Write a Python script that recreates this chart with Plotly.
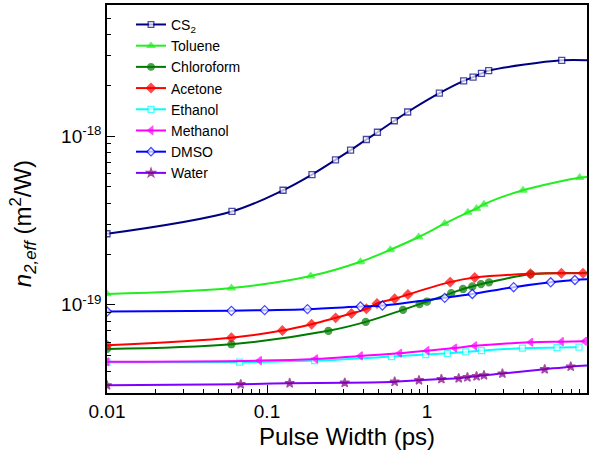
import plotly.graph_objects as go

# ---- data ----
cs2_x = [0.01, 0.0604, 0.126, 0.191, 0.268, 0.333, 0.418, 0.49, 0.625, 0.757, 1.195, 1.695, 1.94, 2.19, 2.43, 6.95, 10]
cs2_y = [2.64e-19, 3.58e-19, 4.78e-19, 5.92e-19, 7.24e-19, 8.26e-19, 9.56e-19, 1.056e-18, 1.235e-18, 1.392e-18,
         1.80e-18, 2.13e-18, 2.24e-18, 2.36e-18, 2.45e-18, 2.82e-18, 2.82e-18]

tol_x = [0.01, 0.0599, 0.1875, 0.384, 0.590, 0.887, 1.29, 1.80, 2.04, 2.27, 3.98, 9.0, 10]
tol_y = [1.16e-19, 1.257e-19, 1.481e-19, 1.801e-19, 2.122e-19, 2.525e-19, 3.03e-19, 3.535e-19, 3.72e-19,
         3.945e-19, 4.78e-19, 5.68e-19, 5.72e-19]

chl_x = [0.01, 0.0599, 0.242, 0.414, 0.708, 0.899, 1.0, 1.417, 1.679, 1.92, 2.175, 2.44, 4.45, 10]
chl_y = [5.48e-20, 5.84e-20, 7.01e-20, 7.92e-20, 9.34e-20, 1.01e-19, 1.046e-19, 1.173e-19, 1.242e-19,
         1.285e-19, 1.327e-19, 1.36e-19, 1.518e-19, 1.543e-19]

ace_x = [0.01, 0.0599, 0.1247, 0.190, 0.2685, 0.337, 0.418, 0.487, 0.628, 0.760, 1.396, 1.987, 4.43, 6.92, 9.44]
ace_y = [5.76e-20, 6.39e-20, 7.04e-20, 7.68e-20, 8.37e-20, 8.88e-20, 9.47e-20, 1.018e-19, 1.086e-19,
         1.151e-19, 1.364e-19, 1.451e-19, 1.528e-19, 1.539e-19, 1.539e-19]

eth_x = [0.01, 0.0675, 0.1986, 0.599, 0.982, 1.341, 1.746, 2.188, 3.95, 6.49, 8.91]
eth_y = [4.57e-20, 4.57e-20, 4.67e-20, 4.93e-20, 5.07e-20, 5.16e-20, 5.26e-20, 5.35e-20, 5.53e-20,
         5.58e-20, 5.61e-20]

met_x = [0.01, 0.0899, 0.2014, 0.384, 0.675, 1.0, 1.49, 1.987, 4.45, 6.92, 9.67]
met_y = [4.60e-20, 4.67e-20, 4.78e-20, 4.98e-20, 5.16e-20, 5.35e-20, 5.55e-20, 5.71e-20, 6.00e-20,
         6.05e-20, 6.08e-20]

dms_x = [0.01, 0.0599, 0.0967, 0.179, 0.384, 0.526, 1.29, 1.92, 3.48, 5.93, 8.40, 10]
dms_y = [9.12e-20, 9.21e-20, 9.30e-20, 9.43e-20, 9.77e-20, 9.90e-20, 1.10e-19, 1.159e-19, 1.273e-19,
         1.36e-19, 1.404e-19, 1.418e-19]

wat_x = [0.01, 0.0685, 0.1386, 0.306, 0.628, 0.891, 1.23, 1.578, 1.789, 2.04, 2.27, 2.96, 5.44, 7.91, 10]
wat_y = [3.33e-20, 3.38e-20, 3.43e-20, 3.45e-20, 3.50e-20, 3.57e-20, 3.63e-20, 3.67e-20, 3.72e-20,
         3.77e-20, 3.82e-20, 3.91e-20, 4.15e-20, 4.30e-20, 4.36e-20]

names = ["CS<sub>2</sub>", "Toluene", "Chloroform", "Acetone", "Ethanol", "Methanol", "DMSO", "Water"]
xs = [cs2_x, tol_x, chl_x, ace_x, eth_x, met_x, dms_x, wat_x]
ys = [cs2_y, tol_y, chl_y, ace_y, eth_y, met_y, dms_y, wat_y]

x_title = "Pulse Width (ps)"
y_title = "<i>n</i><sub><i>2,eff</i></sub> (m<sup>2</sup>/W)"

# ---- styles ----
line_colors = ["#000080", "#22EE22", "#007A00", "#FF0000", "#00FFFF", "#FF00FF", "#0000FF", "#8000FF"]
mk_symbols = ["square", "triangle-up", "circle", "diamond", "square", "triangle-left", "diamond", "star"]
mk_fill = ["white", "#22EE22", "#007A00", "#FF0000", "white", "#FF00FF", "white", "#800080"]
mk_line = ["#000080", "#22EE22", "#007A00", "#FF0000", "#00FFFF", "#FF00FF", "#0000FF", "#800080"]
mk_size = [6, 7, 7, 7, 6, 7, 7, 7]

FONT = "Liberation Sans, Arial, sans-serif"

fig = go.Figure()
for i in range(len(names)):
    sizes = [mk_size[i] if x < 10 else 0 for x in xs[i]]
    fig.add_trace(go.Scatter(
        x=xs[i], y=ys[i], name=names[i], mode="lines+markers",
        line=dict(color=line_colors[i], width=2, shape="spline", smoothing=1.0),
        marker=dict(symbol=mk_symbols[i], size=sizes, color=mk_fill[i],
                    line=dict(color=mk_line[i], width=1.3)),
    ))

def minor_vals(lo, hi):
    v = []
    for e in range(lo, hi):
        for m in range(2, 10):
            v.append(m * 10.0 ** e)
    return v

fig.update_layout(
    width=597, height=454,
    margin=dict(l=107, r=10, t=5, b=61, autoexpand=False),
    paper_bgcolor="white", plot_bgcolor="white",
    font=dict(family=FONT, color="black", size=19),
    showlegend=True,
    legend=dict(x=0.05, y=0.99, xanchor="left", yanchor="top",
                bgcolor="rgba(0,0,0,0)", borderwidth=0,
                font=dict(family=FONT, size=14, color="black"),
                tracegroupgap=0, itemwidth=30),
    annotations=[dict(text=y_title, xref="paper", yref="paper", x=-0.175, y=0.435,
                      xanchor="center", yanchor="middle", textangle=-90, showarrow=False,
                      font=dict(family=FONT, size=24, color="black"))],
)

fig.update_xaxes(
    type="log", range=[-2, 1], automargin=False,
    showline=True, linecolor="black", linewidth=1.5, mirror=True,
    showgrid=False, zeroline=False,
    ticks="inside", ticklen=8, tickwidth=1.2, tickcolor="black",
    tickvals=[0.01, 0.1, 1, 10], ticktext=["0.01", "0.1", "1", "10"],
    tickfont=dict(family=FONT, size=19),
    minor=dict(ticks="inside", ticklen=4, tickwidth=1, tickcolor="black",
               tickvals=minor_vals(-2, 1), showgrid=False),
    title=dict(text=x_title, font=dict(family=FONT, size=24), standoff=8),
)

fig.update_yaxes(
    type="log", range=[-19.5229, -17.2218], automargin=False,
    showline=True, linecolor="black", linewidth=1.5, mirror=True,
    showgrid=False, zeroline=False,
    ticks="inside", ticklen=8, tickwidth=1.2, tickcolor="black",
    tickvals=[1e-19, 1e-18], ticktext=["10<sup>-19</sup>", "10<sup>-18</sup>"],
    tickfont=dict(family=FONT, size=19),
    minor=dict(ticks="inside", ticklen=4, tickwidth=1, tickcolor="black",
               tickvals=minor_vals(-20, -17), showgrid=False),
)

fig.write_html("out.html", config={"displayModeBar": False},
               post_script="document.body.style.margin='0px';")
